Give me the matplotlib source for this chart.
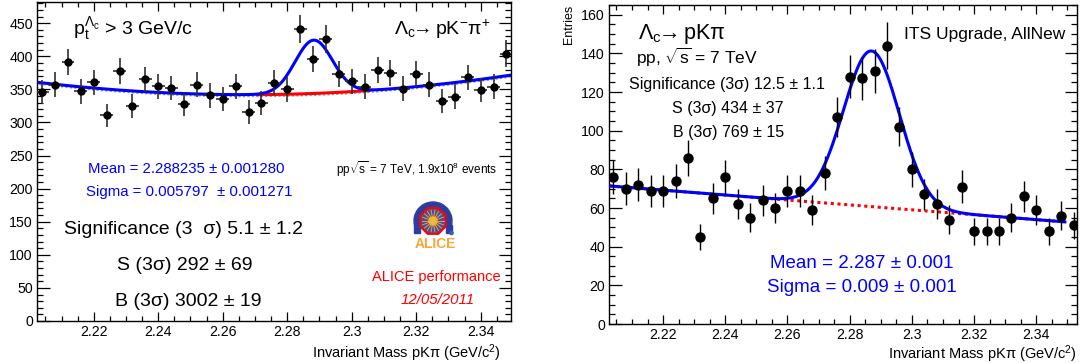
import numpy as np
import matplotlib
matplotlib.use("Agg")
from matplotlib import pyplot as plt
from matplotlib.patches import RegularPolygon, Wedge, Circle, Rectangle
from matplotlib.ticker import MultipleLocator, FuncFormatter

plt.rcParams['font.family'] = ['Liberation Sans', 'DejaVu Sans']
plt.rcParams['mathtext.fontset'] = 'custom'
plt.rcParams['mathtext.rm'] = 'Liberation Sans'
plt.rcParams['mathtext.it'] = 'Liberation Sans'
plt.rcParams['mathtext.bf'] = 'Liberation Sans:bold'
plt.rcParams['mathtext.fallback'] = 'cm'

W, H = 1082, 363

# ---- left panel: pp 7 TeV data ----
mass_l = [2.204, 2.208, 2.212, 2.216, 2.220, 2.224, 2.228, 2.232, 2.236, 2.240,
          2.244, 2.248, 2.252, 2.256, 2.260, 2.264, 2.268, 2.272, 2.276, 2.280,
          2.284, 2.288, 2.292, 2.296, 2.300, 2.304, 2.308, 2.312, 2.316, 2.320,
          2.324, 2.328, 2.332, 2.336, 2.340, 2.344, 2.348]
counts_l = [346, 357, 391, 347, 361, 311, 378, 325, 365, 355,
            352, 328, 357, 341, 335, 355, 316, 330, 360, 350,
            441, 396, 426, 373, 362, 354, 379, 375, 351, 373,
            357, 332, 339, 368, 349, 354, 404]
# fit: pol2 background + gaussian
mean_l, sigma_l, amp_l = 2.288235, 0.005797, 80.5
bg_l = [342.0, 21.2, 4421.0]       # around x = 2.27
bg_side_l = [339.8, 21.2, 4421.0]  # sideband fit (grey)

# ---- right panel: ITS upgrade simulation ----
mass_r = [2.204, 2.208, 2.212, 2.216, 2.220, 2.224, 2.228, 2.232, 2.236, 2.240,
          2.244, 2.248, 2.252, 2.256, 2.260, 2.264, 2.268, 2.272, 2.276, 2.280,
          2.284, 2.288, 2.292, 2.296, 2.300, 2.304, 2.308, 2.312, 2.316, 2.320,
          2.324, 2.328, 2.332, 2.336, 2.340, 2.344, 2.348, 2.352]
counts_r = [76, 70, 72, 69, 69, 74, 86, 45, 65, 76,
            62, 55, 64, 60, 69, 69, 59, 78, 107, 128,
            127, 131, 144, 102, 80, 67, 62, 54, 71, 48,
            48, 48, 55, 66, 59, 48, 56, 51]
mean_r, sigma_r, amp_r = 2.287, 0.009, 80.5
bg_r = [61.6, -127.0]              # around x = 2.28

xlabel = r"Invariant Mass pK$\pi$ (GeV/c$^{2}$)"


def px_to_fig(x, y):
    return x / W, 1 - y / H


def gauss(x, m, s, a):
    return a * np.exp(-0.5 * ((x - m) / s) ** 2)


def style_axis(ax, ymaj, ymin):
    ax.xaxis.set_major_locator(MultipleLocator(0.02))
    ax.xaxis.set_minor_locator(MultipleLocator(0.005))
    ax.yaxis.set_major_locator(MultipleLocator(ymaj))
    ax.yaxis.set_minor_locator(MultipleLocator(ymin))
    ax.xaxis.set_major_formatter(FuncFormatter(lambda v, p: f"{round(v, 3):g}"))
    ax.tick_params(which='both', direction='in', top=True, right=True, labelsize=10.2, width=0.9)
    ax.tick_params(axis='y', which='major', length=9, pad=3)
    ax.tick_params(axis='y', which='minor', length=4.5)
    ax.tick_params(axis='x', which='major', length=6.5, pad=3)
    ax.tick_params(axis='x', which='minor', length=3.5)
    for sp in ax.spines.values():
        sp.set_linewidth(1.0)


fig = plt.figure(figsize=(W / 100, H / 100), dpi=100)

# ======== left panel ========
axL = fig.add_axes([37 / W, 1 - 321 / H, 474 / W, 319 / H])
axL.set_xlim(2.2024, 2.3494)
axL.set_ylim(0, 482)
style_axis(axL, 50, 10)

xf = np.linspace(2.2030, 2.3490, 500)
bgv = bg_l[0] + bg_l[1] * (xf - 2.27) + bg_l[2] * (xf - 2.27) ** 2
bgs = bg_side_l[0] + bg_side_l[1] * (xf - 2.27) + bg_side_l[2] * (xf - 2.27) ** 2
axL.plot(xf, bgs, color='#999999', lw=1.6, ls=(0, (1, 1)), zorder=2)
sig_reg = (xf > mean_l - 3 * sigma_l) & (xf < mean_l + 3 * sigma_l)
axL.plot(xf[sig_reg], bgv[sig_reg], color='red', lw=2.2, zorder=3)
axL.plot(xf, bgv + gauss(xf, mean_l, sigma_l, amp_l), color='blue', lw=2.2, zorder=4)
axL.errorbar(mass_l, counts_l, xerr=0.002, yerr=np.sqrt(counts_l), fmt='o', color='black',
             ms=5, ecolor='#303030', elinewidth=1.2, capsize=0, zorder=5)

fig.text(*px_to_fig(501, 353), xlabel, fontsize=10.5, ha='right', va='center')
fig.text(*px_to_fig(73, 35), r"$\mathregular{p_{t}^{\Lambda_{c}}}$ > 3 GeV/c", fontsize=14,
         ha='left', va='baseline')
fig.text(*px_to_fig(491, 35), r"$\mathregular{\Lambda_{c}\!\!\rightarrow}$pK$^{-}\pi^{+}$", fontsize=14,
         ha='right', va='baseline')
fig.text(*px_to_fig(88, 169), "Mean = 2.288235 ± 0.001280", fontsize=10.8, color='blue',
         ha='left', va='center')
fig.text(*px_to_fig(86, 192), "Sigma = 0.005797  ± 0.001271", fontsize=10.8, color='blue',
         ha='left', va='center')
fig.text(*px_to_fig(497, 169), r"pp$\sqrt{\mathregular{s}}$ = 7 TeV, 1.9x10$^{8}$ events",
         fontsize=8.5, ha='right', va='center')
fig.text(*px_to_fig(64, 230), "Significance (3  σ) 5.1 ± 1.2", fontsize=14, ha='left', va='center')
fig.text(*px_to_fig(185, 266), "S (3σ) 292 ± 69", fontsize=14, ha='center', va='center')
fig.text(*px_to_fig(188, 301), "B (3σ) 3002 ± 19", fontsize=14, ha='center', va='center')
fig.text(*px_to_fig(436, 277), "ALICE performance", fontsize=10.5, color='red',
         ha='center', va='center')
fig.text(*px_to_fig(438, 300), "12/05/2011", fontsize=10.8, color='red', style='italic',
         ha='center', va='center')

# ALICE logo (simplified)
lx0, ly0, lw_, lh_ = 412, 198, 46, 54
axLogo = fig.add_axes([lx0 / W, 1 - (ly0 + lh_) / H, lw_ / W, lh_ / H])
axLogo.set_xlim(0, lw_)
axLogo.set_ylim(0, lh_)
axLogo.axis('off')
cx, cy = 21, 31
axLogo.add_patch(Wedge((cx, cy), 19, -15, 195, width=5.5, color='#2b3d9e'))
axLogo.add_patch(Rectangle((cx - 19, cy - 12), 5.5, 8, color='#2b3d9e'))
axLogo.add_patch(Rectangle((cx + 13.5, cy - 12), 5.5, 8, color='#2b3d9e'))
axLogo.add_patch(RegularPolygon((cx, cy), 8, radius=14, orientation=np.pi / 8,
                                facecolor='#5a4a8a', edgecolor='red', lw=1.4))
for ang in np.linspace(0, 2 * np.pi, 18, endpoint=False):
    axLogo.plot([cx, cx + 11 * np.cos(ang)], [cy, cy + 11 * np.sin(ang)],
                color='#f0c040', lw=0.7, alpha=0.8)
axLogo.add_patch(Circle((cx, cy), 4, color='#f5a030'))
axLogo.add_patch(Circle((cx + 18.5, cy - 12), 1.6, color='#3060c0'))
axLogo.text(cx + 2, 8, "ALICE", fontsize=10, fontweight='bold', color='#f7a83a',
            ha='center', va='center')

# ======== right panel ========
axR = fig.add_axes([609 / W, 1 - 324 / H, 468 / W, 319 / H])
axR.set_xlim(2.2026, 2.3531)
axR.set_ylim(0, 165)
style_axis(axR, 20, 5)

xr = np.linspace(2.2028, 2.3492, 500)
bgr = bg_r[0] + bg_r[1] * (xr - 2.28)
axR.plot(xr, bgr, color='red', lw=2.2, ls=(0, (1, 1.2)), zorder=3)
axR.plot(xr, bgr + gauss(xr, mean_r, sigma_r, amp_r), color='blue', lw=2.2, zorder=4)
axR.errorbar(mass_r, counts_r, yerr=np.sqrt(counts_r), fmt='o', color='black',
             ms=6.5, ecolor='black', elinewidth=1.0, capsize=0, zorder=5)
fig.text(*px_to_fig(569, 5), "Entries", rotation=90, fontsize=9, ha='center', va='top')
fig.text(*px_to_fig(1077, 354), xlabel, fontsize=10.5, ha='right', va='center')

fig.text(*px_to_fig(638, 34), r"$\mathregular{\Lambda_{c}\!\!\rightarrow}$pK$\pi$", fontsize=15.5,
         ha='left', va='center')
fig.text(*px_to_fig(636, 57), r"pp, $\sqrt{\mathregular{s}}$ = 7 TeV", fontsize=12.5,
         ha='left', va='center')
fig.text(*px_to_fig(727, 84), "Significance (3σ) 12.5 ± 1.1", fontsize=11.5, ha='center', va='center')
fig.text(*px_to_fig(728, 108), "S (3σ) 434 ± 37", fontsize=11.5, ha='center', va='center')
fig.text(*px_to_fig(729, 132), "B (3σ) 769 ± 15", fontsize=11.5, ha='center', va='center')
fig.text(*px_to_fig(1065, 34), "ITS Upgrade, AllNew", fontsize=12.5, ha='right', va='center')
fig.text(*px_to_fig(862, 264), "Mean = 2.287 ± 0.001", fontsize=13.5, color='blue',
         ha='center', va='center')
fig.text(*px_to_fig(862, 288), "Sigma = 0.009 ± 0.001", fontsize=13.5, color='blue',
         ha='center', va='center')

fig.savefig("out.png", dpi=100)
